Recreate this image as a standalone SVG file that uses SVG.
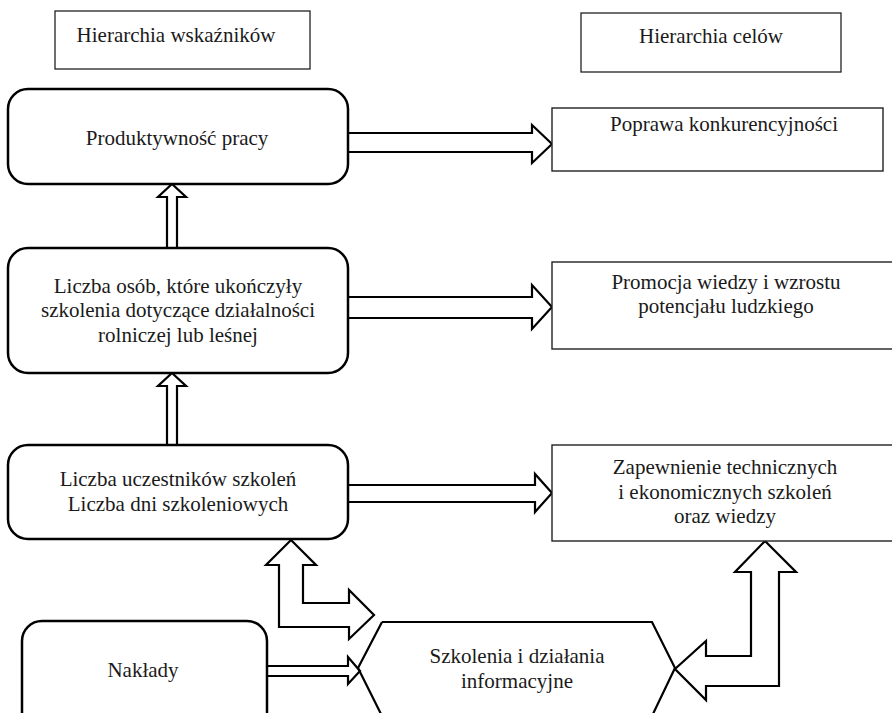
<svg xmlns="http://www.w3.org/2000/svg" width="892" height="713" viewBox="0 0 892 713">
<style>
text{font-family:Liberation Serif,serif;font-size:21px;fill:#1a1a1a;text-anchor:middle}
.hdr{fill:#fff;stroke:#222;stroke-width:1.3}
.goal{fill:#fff;stroke:#222;stroke-width:1.4}
.ind{fill:#fff;stroke:#000;stroke-width:2.5}
.arr{fill:#fff;stroke:#000;stroke-width:2.2;stroke-linejoin:miter}
</style>
<rect width="892" height="713" fill="#fff"/>
<g id="hdr-indicators"><rect class="hdr" x="55" y="11" width="255" height="58"/><text x="176" y="42">Hierarchia wskaźników</text></g>
<g id="hdr-goals"><rect class="hdr" x="581" y="13" width="260" height="59"/><text x="711" y="43">Hierarchia celów</text></g>
<g id="connectors">
<path class="arr" d="M348,133 H532 V125 L552,144 L532,163 V152 H348"/>
<path class="arr" d="M348,297 H532 V285 L552,307 L532,329 V318 H348"/>
<path class="arr" d="M348,485 H535 V474 L552,493 L535,512 V502 H348"/>
<path class="arr" d="M267,666 H348 V657 L360,671 L348,684 V676 H267"/>
<path class="arr" d="M167,250 V197 H158 L172,184 L186,197 H177 V250"/>
<path class="arr" d="M167,445 V386 H158 L172,373 L186,386 H177 V445"/>
<path class="arr" d="M291,540 L316,565 H303 V603 H349 V590 L374,615 L349,639 V627 H279 V565 H266 Z"/>
<path class="arr" d="M765,541 L796,572 H779 V686 H706 V700 L675,669 L706,641 V656 H751 V572 H735 Z"/>
</g>
<g id="productivity"><rect class="ind" x="8" y="89" width="340" height="95" rx="20"/><text x="177" y="145">Produktywność pracy</text></g>
<g id="competitiveness"><rect class="goal" x="552" y="108" width="331" height="63"/><text x="724" y="131">Poprawa konkurencyjności</text></g>
<g id="trained"><rect class="ind" x="8" y="248" width="340" height="125" rx="20"/><text x="178" y="293">Liczba osób, które ukończyły</text><text x="178" y="317">szkolenia dotyczące działalności</text><text x="178" y="342">rolniczej lub leśnej</text></g>
<g id="knowledge"><rect class="goal" x="552" y="262" width="350" height="87"/><text x="726" y="289">Promocja wiedzy i wzrostu</text><text x="726" y="313">potencjału ludzkiego</text></g>
<g id="participants"><rect class="ind" x="8" y="445" width="340" height="94" rx="20"/><text x="178" y="486">Liczba uczestników szkoleń</text><text x="178" y="511">Liczba dni szkoleniowych</text></g>
<g id="provision"><rect class="goal" x="552" y="445" width="350" height="96"/><text x="725" y="474">Zapewnienie technicznych</text><text x="725" y="499">i ekonomicznych szkoleń</text><text x="725" y="523">oraz wiedzy</text></g>
<g id="inputs"><rect class="ind" x="22" y="621" width="245" height="130" rx="20"/><text x="143" y="677">Nakłady</text></g>
<g id="activities"><path fill="none" stroke="#000" stroke-width="2.2" d="M382,622 H652 L675,668 L652,716 M382,622 L358,668 L382,716"/><text x="517" y="663">Szkolenia i działania</text><text x="517" y="688">informacyjne</text></g>
</svg>
